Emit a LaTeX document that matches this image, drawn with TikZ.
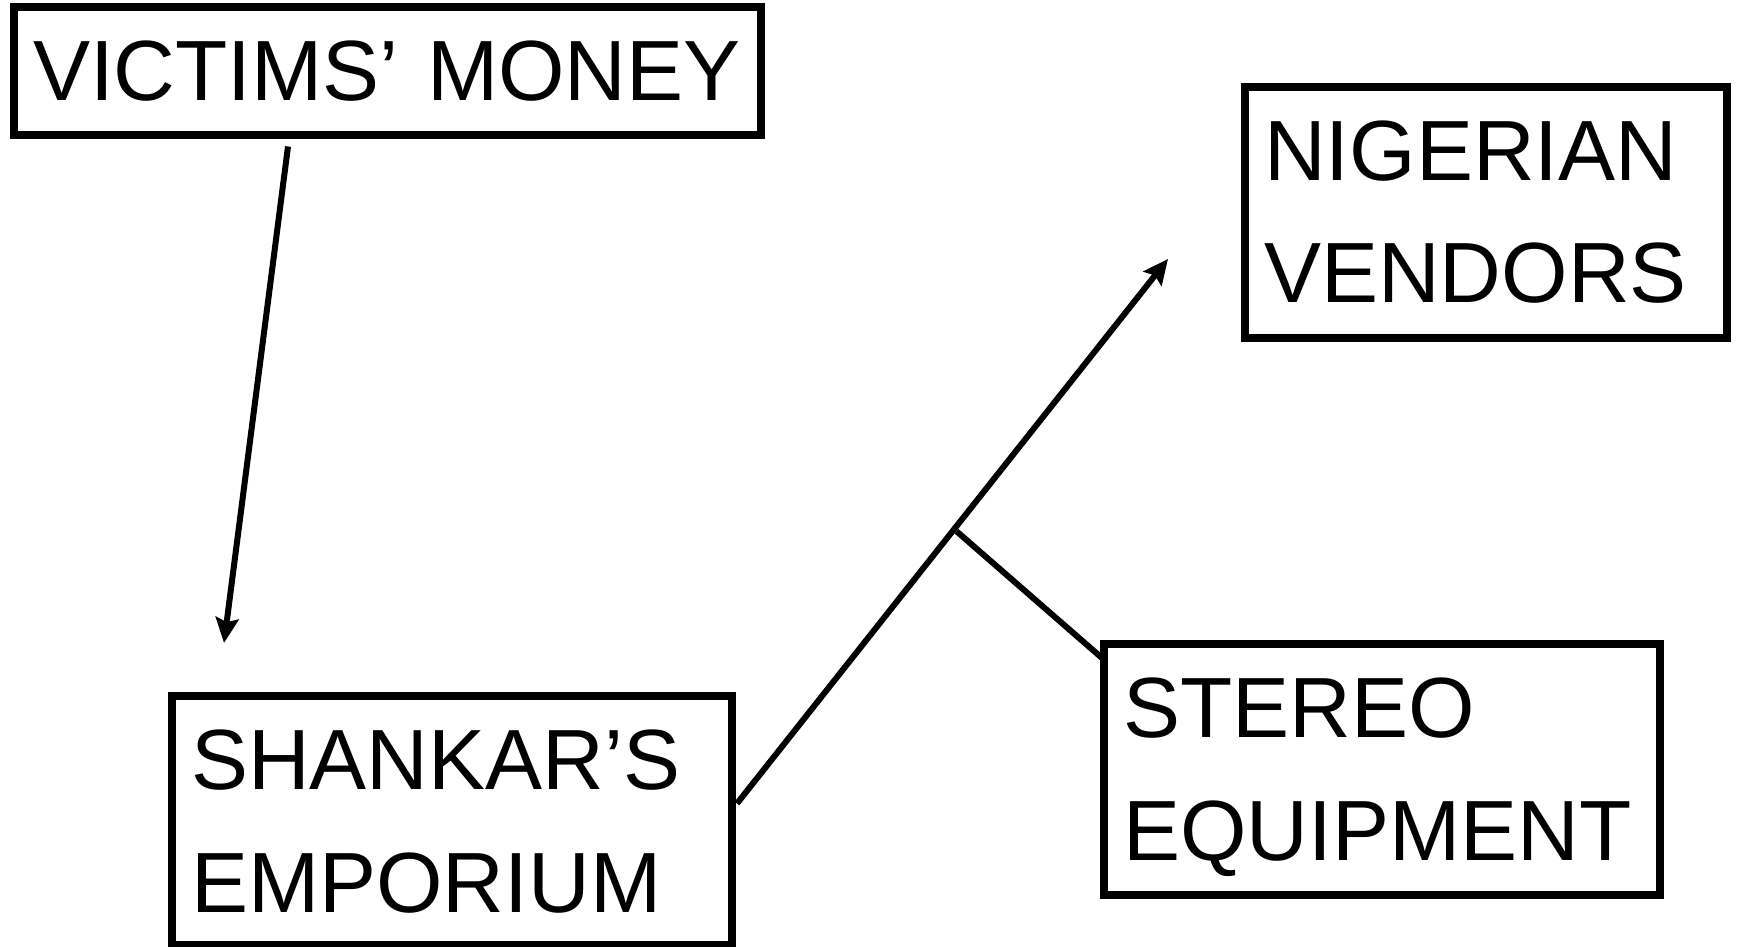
\documentclass[tikz,border=0pt]{standalone}
\usepackage{fontspec}
\setmainfont{Liberation Sans}
\usetikzlibrary{arrows.meta,calc}
\tikzset {>={Stealth[length=25pt,width=23pt,inset=4pt]}}
\tikzset{box/.style={draw,line width=8pt,outer sep=0pt,inner xsep=19pt,inner ysep=0pt,
  align=left,font=\fontsize{85.5pt}{123pt}\selectfont,text height=93pt,anchor=north west},
  flow/.style={line width=6pt}}

\begin{document}
\begin{tikzpicture}[x=1pt,y=-1pt]
\useasboundingbox (0,0) rectangle (1738,947);
\node[box,text width=709pt,text depth=35pt] (vict) at (14,7.5) {\mbox{VICTIMS’ MONEY}};
\node[box,text width=522pt,text depth=156pt] (shank) at (172,696) {SHANKAR’S\\EMPORIUM};
\node[box,text width=444pt,text depth=158pt] (nig) at (1245,87) {NIGERIAN\\VENDORS};
\node[box,text width=518pt,text depth=158pt] (stereo) at (1104,644) {STEREO\\EQUIPMENT};

\draw[flow,->] ($(vict.south west)+(274,11)$) -- ($(shank.north west)+(52,-53)$);
\draw[flow,->] ($(shank.east)+(5,-17)$) -- coordinate[pos=0.5] (fork) ($(nig.south west)+(-77,-79)$);
\draw[flow] ([xshift=4pt]fork) -- ($(stereo.north west)+(-2,14)$);
\end{tikzpicture}
\end{document}
